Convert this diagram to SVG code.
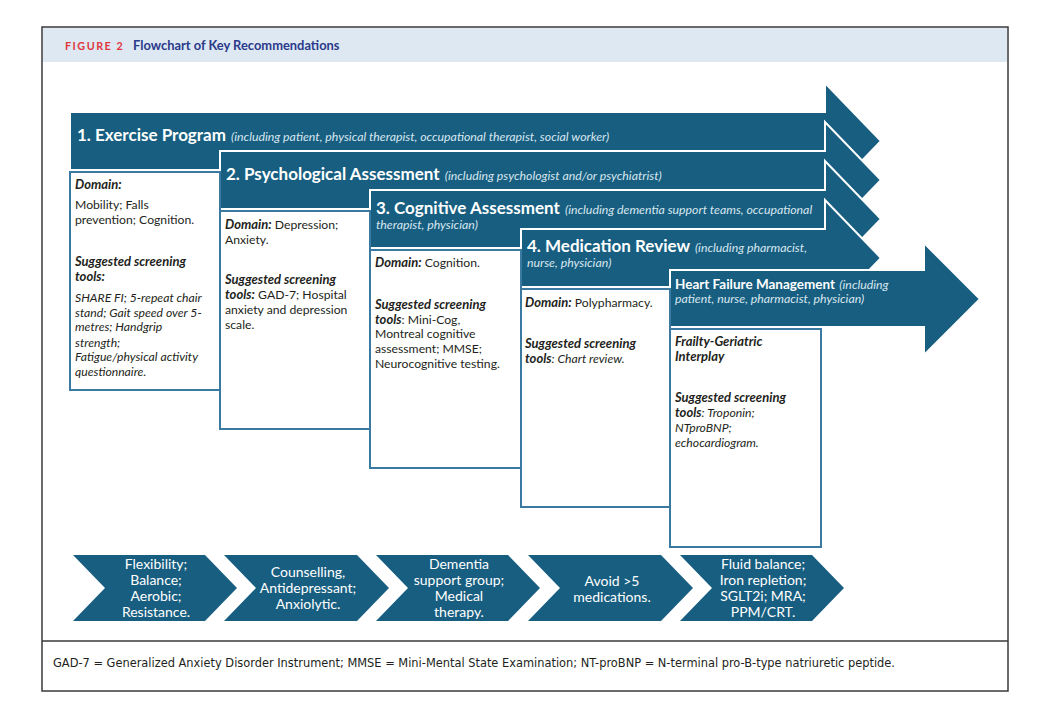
<svg xmlns="http://www.w3.org/2000/svg" width="1045" height="712" viewBox="0 0 1045 712">
<defs>
<style>
.arrow{fill:#175e80;stroke:#ffffff;stroke-width:2}
.box{fill:#ffffff;stroke:#3a7aa0;stroke-width:2}
.chev{fill:#175e80}
.h{font-family:Lato,"Open Sans",sans-serif;font-weight:bold;fill:#ffffff;font-size:17px}
.h5{font-family:Lato,"Open Sans",sans-serif;font-weight:bold;fill:#ffffff;font-size:13.5px}
.hs{font-family:Lato,"Open Sans",sans-serif;font-style:italic;fill:#d8e6ef;font-size:12.3px;font-weight:normal}
.t{font-family:Lato,"Open Sans",sans-serif;font-size:12.2px;fill:#231f20}
.b{font-weight:bold;font-style:italic;font-size:13px}
.i{font-style:italic}
.c{font-family:Lato,"Open Sans",sans-serif;font-size:14px;fill:#ffffff;text-anchor:middle}
</style>
</defs>
<rect x="0" y="0" width="1045" height="712" fill="#ffffff"/>
<g id="frame">
<rect x="42" y="27" width="966" height="664" fill="#ffffff" stroke="#3a3a3a" stroke-width="1.5"/>
<rect x="43" y="28" width="964" height="34" fill="#dde8f2"/>
<line x1="42" y1="641" x2="1008" y2="641" stroke="#3a3a3a" stroke-width="1.5"/>
<text x="65" y="50" font-family="Lato,'Open Sans',sans-serif" font-weight="bold" font-size="10.8" letter-spacing="1.5" fill="#e0373d">FIGURE 2</text>
<text x="133" y="50" font-family="Lato,'Open Sans',sans-serif" font-weight="bold" font-size="12.9" fill="#2b3a8a">Flowchart of Key Recommendations</text>
<text x="53" y="667" font-family="'DejaVu Sans Condensed','Liberation Sans',sans-serif" font-stretch="condensed" font-size="11.5" fill="#231f20" textLength="842" lengthAdjust="spacingAndGlyphs">GAD-7 = Generalized Anxiety Disorder Instrument; MMSE = Mini-Mental State Examination; NT-proBNP = N-terminal pro-B-type natriuretic peptide.</text>
</g>
<g id="arrows">
<g id="arrow1">
<path class="arrow" d="M70,112 H825 V83 L881,141 L825,199 V170 H70 Z"/>
<text x="77" y="141"><tspan class="h">1. Exercise Program </tspan><tspan class="hs" dx="1">(including patient, physical therapist, occupational therapist, social worker)</tspan></text>
</g>
<g id="arrow2">
<path class="arrow" d="M220,151 H825 V122 L881,180 L825,238 V209 H220 Z"/>
<text x="226" y="180"><tspan class="h">2. Psychological Assessment </tspan><tspan class="hs" dx="1">(including psychologist and/or psychiatrist)</tspan></text>
</g>
<g id="arrow3">
<path class="arrow" d="M370,190 H825 V161 L881,219 L825,277 V248 H370 Z"/>
<text x="376" y="214"><tspan class="h">3. Cognitive Assessment </tspan><tspan class="hs" dx="1">(including dementia support teams, occupational</tspan></text>
<text x="376" y="229" class="hs">therapist, physician)</text>
</g>
<g id="arrow4">
<path class="arrow" d="M521,229 H825 V200 L881,258 L825,316 V287 H521 Z"/>
<text x="527" y="252"><tspan class="h">4. Medication Review </tspan><tspan class="hs" dx="1">(including pharmacist,</tspan></text>
<text x="527" y="267" class="hs">nurse, physician)</text>
</g>
<g id="arrow5">
<path class="arrow" d="M670,270 H924 V243 L980,299 L924,355 V327 H670 Z"/>
<text x="675" y="289"><tspan class="h5">Heart Failure Management </tspan><tspan class="hs" dx="1">(including</tspan></text>
<text x="675" y="303" class="hs">patient, nurse, pharmacist, physician)</text>
</g>
</g>
<g id="box1">
<rect class="box" x="70" y="172" width="150" height="218"/>
<text class="t"><tspan x="75" y="189" class="b">Domain:</tspan><tspan x="75" y="209">Mobility; Falls</tspan><tspan x="75" y="224">prevention; Cognition.</tspan><tspan x="75" y="266" class="b">Suggested screening</tspan><tspan x="75" y="281" class="b">tools:</tspan><tspan x="75" y="302" class="i">SHARE FI; 5-repeat chair</tspan><tspan x="75" y="317" class="i">stand; Gait speed over 5-</tspan><tspan x="75" y="331" class="i">metres; Handgrip</tspan><tspan x="75" y="347" class="i">strength;</tspan><tspan x="75" y="361" class="i">Fatigue/physical activity</tspan><tspan x="75" y="376" class="i">questionnaire.</tspan></text>
</g>
<g id="box2">
<rect class="box" x="220" y="211" width="150" height="218"/>
<text class="t"><tspan x="225" y="229" class="b">Domain:</tspan><tspan> Depression;</tspan><tspan x="225" y="244">Anxiety.</tspan><tspan x="225" y="284" class="b">Suggested screening</tspan><tspan x="225" y="299" class="b">tools:</tspan><tspan> GAD-7; Hospital</tspan><tspan x="225" y="314">anxiety and depression</tspan><tspan x="225" y="329">scale.</tspan></text>
</g>
<g id="box3">
<rect class="box" x="370" y="250" width="151" height="218"/>
<text class="t"><tspan x="375" y="267" class="b">Domain:</tspan><tspan> Cognition.</tspan><tspan x="375" y="309" class="b">Suggested screening</tspan><tspan x="375" y="324" class="b">tools</tspan><tspan>: Mini-Cog,</tspan><tspan x="375" y="338">Montreal cognitive</tspan><tspan x="375" y="353">assessment; MMSE;</tspan><tspan x="375" y="368">Neurocognitive testing.</tspan></text>
</g>
<g id="box4">
<rect class="box" x="521" y="289" width="149" height="218"/>
<text class="t"><tspan x="525" y="307" class="b">Domain:</tspan><tspan> Polypharmacy.</tspan><tspan x="525" y="348" class="b">Suggested screening</tspan><tspan x="525" y="363" class="b">tools</tspan><tspan class="i">: Chart review.</tspan></text>
</g>
<g id="box5">
<rect class="box" x="670" y="329" width="151" height="218"/>
<text class="t"><tspan x="675" y="346" class="b">Frailty-Geriatric</tspan><tspan x="675" y="361" class="b">Interplay</tspan><tspan x="675" y="402" class="b">Suggested screening</tspan><tspan x="675" y="417" class="b">tools</tspan><tspan class="i">: Troponin;</tspan><tspan x="675" y="432" class="i">NTproBNP;</tspan><tspan x="675" y="447" class="i">echocardiogram.</tspan></text>
</g>
<g id="chevron1">
<path class="chev" d="M73,555 H205 L237,588 L205,621 H73 L105,588 Z"/>
<text class="c"><tspan x="156" y="569">Flexibility;</tspan><tspan x="156" y="585">Balance;</tspan><tspan x="156" y="601">Aerobic;</tspan><tspan x="156" y="617">Resistance.</tspan></text>
</g>
<g id="chevron2">
<path class="chev" d="M224,555 H357 L389,588 L357,621 H224 L256,588 Z"/>
<text class="c"><tspan x="308" y="577">Counselling,</tspan><tspan x="308" y="593">Antidepressant;</tspan><tspan x="308" y="609">Anxiolytic.</tspan></text>
</g>
<g id="chevron3">
<path class="chev" d="M376,555 H508 L540,588 L508,621 H376 L408,588 Z"/>
<text class="c"><tspan x="459" y="569">Dementia</tspan><tspan x="459" y="585">support group;</tspan><tspan x="459" y="601">Medical</tspan><tspan x="459" y="617">therapy.</tspan></text>
</g>
<g id="chevron4">
<path class="chev" d="M528,555 H661 L693,588 L661,621 H528 L560,588 Z"/>
<text class="c"><tspan x="612" y="586">Avoid &gt;5</tspan><tspan x="612" y="602">medications.</tspan></text>
</g>
<g id="chevron5">
<path class="chev" d="M680,555 H812 L844,588 L812,621 H680 L712,588 Z"/>
<text class="c"><tspan x="763" y="569">Fluid balance;</tspan><tspan x="763" y="585">Iron repletion;</tspan><tspan x="763" y="601">SGLT2i; MRA;</tspan><tspan x="763" y="617">PPM/CRT.</tspan></text>
</g>
</svg>
